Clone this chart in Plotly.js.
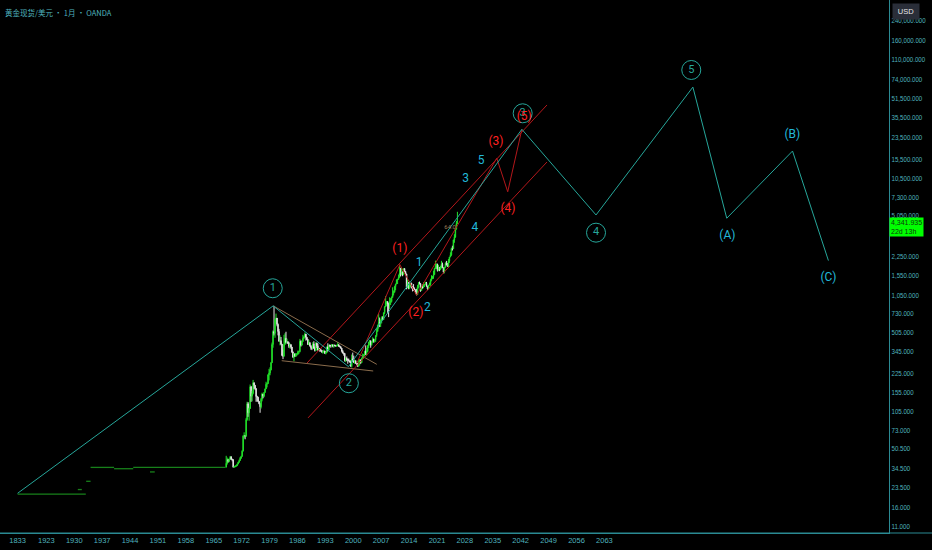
<!DOCTYPE html>
<html><head><meta charset="utf-8">
<script src="https://cdn.plot.ly/plotly-3.0.1.min.js"></script>
<style>html,body{margin:0;padding:0;background:#000;}#chart{width:932px;height:550px;}</style>
</head><body><div id="chart"></div>
<script>
// ---- early flat-period prices (bar position in years, price); null breaks a segment
const earlyX = [1915.8, 1932.9, null, 1930.9, 1931.9, null, 1933.0, 1934.1, null, 1934.1, 1940.0, null, 1940.0, 1944.8, null, 1944.8, 1968.0, null, 1949.0, 1950.2];
const earlyY = [20.67, 20.67, null, 22.6, 22.6, null, 26.6, 26.6, null, 35, 35, null, 34.1, 34.1, null, 35, 35, null, 32, 32];

// ---- quarterly candles from 1968 Q1 to 2026 Q1
const qStart = 1968;
const firstOpen = 35.2;
const qClose = [
 38,41,39.5,41, 43.2,41.2,40.8,35.2, 35.4,36,36.2,37.4, 38.8,40.1,42,43.5,
 48.3,65,65.5,64.9, 90,123,103,112, 172,143,151,186.5, 177,166,142,140,
 129,123,116,134.5, 149,143,154,165, 181,183,218,226, 240,277,397,512,
 494,653,667,590, 513,422,428,400, 320,315,397,448, 414,416,405,382,
 394,377,342,309, 330,317,326,327, 344,345,423,391, 421,448,460,487,
 457,436,397,410, 386,373,367,401, 368,352,408,386, 356,367,354,353,
 341,343,349,333, 337,378,355,391, 390,388,394,383, 391,387,384,387,
 396,382,379,369, 348,334,332,290, 301,296,293,288, 280,261,299,290,
 278,288,273,273, 258,270,293,277, 302,318,323,347, 334,346,386,416,
 427,395,416,438, 428,435,473,513, 582,613,599,632, 663,650,743,834,
 916,925,880,869, 919,926,1003,1087, 1113,1244,1307,1421, 1439,1500,1620,1566,
 1662,1598,1772,1675, 1596,1234,1327,1202, 1284,1327,1210,1184, 1183,1172,1115,1061,
 1233,1321,1316,1151, 1249,1242,1280,1303, 1325,1253,1192,1282, 1292,1409,1472,1517,
 1577,1781,1886,1898, 1708,1770,1742,1829, 1937,1807,1661,1824, 1969,1919,1849,2063,
 2230,2326,2634,2624, 3123,3303,3859,4319, 4341.935];
const qHigh = [
 44,42.5,41,41.9, 43.8,43.5,41.5,41, 35.9,36.3,36.6,37.6, 39,40.8,43,44,
 49,66,70,66, 93,128,127,114, 180,175,159,197, 186,178,167,144,
 141,130,125,138, 153,149,155,166, 190,186,220,245, 253,281,412,524,
 850,657,730,660, 600,540,475,460, 400,358,480,495, 510,445,425,415,
 404,400,375,345, 335,331,335,335, 352,350,443,430, 425,480,466,502,
 487,458,442,432, 415,392,371,416, 423,381,415,410, 404,371,368,366,
 355,345,359,350, 339,380,406,395, 395,389,399,397, 396,396,391,395,
 417,396,389,383, 369,355,339,335, 306,313,301,300, 289,290,325,338,
 318,294,289,276, 273,294,297,293, 306,332,327,350, 390,371,392,417,
 433,428,417,457, 446,441,474,541, 586,730,675,650, 690,692,745,845,
 1032,935,920,904, 1007,990,1024,1227, 1153,1265,1316,1432, 1448,1577,1921,1803,
 1792,1677,1788,1796, 1695,1605,1434,1361, 1392,1332,1345,1255, 1307,1224,1170,1191,
 1282,1362,1375,1337, 1264,1296,1357,1305, 1366,1365,1262,1284, 1346,1438,1557,1535,
 1703,1789,2075,1965, 1959,1916,1834,1877, 2070,1998,1814,1833, 2009,2067,1987,2146,
 2236,2450,2685,2790, 3148,3500,3872,4550, 5450];
const qLow = [
 35,37,38.5,38.8, 41,40.5,39.5,34.9, 34.8,35.2,35.4,36.5, 37.3,38.3,40,41.5,
 43.5,48,62,61, 64,88,95,88, 116,128,129,148, 165,161,128,128.5,
 127,122,103,112, 129,137,140,153, 165,170,183,195, 216,238,275,372,
 474,453,606,568, 475,420,390,391, 315,297,312,395, 405,403,400,370,
 366,365,335,305, 284,310,310,318, 325,330,340,381, 398,418,440,455,
 428,436,393,395, 380,358,355,365, 365,345,352,370, 351,354,343,343,
 337,331,339,329, 326,337,345,352, 376,372,379,375, 372,383,382,380,
 395,380,375,366, 339,334,318,283, 280,286,271,284, 278,254,252,281,
 277,270,271,263, 255,256,262,271, 277,302,301,313, 322,320,342,370,
 390,372,388,412, 411,413,418,461, 514,543,560,561, 602,640,643,723,
 834,846,735,681, 801,865,908,1001, 1044,1106,1157,1308, 1309,1418,1478,1522,
 1563,1527,1556,1662, 1554,1180,1207,1181, 1182,1240,1206,1131, 1142,1162,1077,1046,
 1061,1200,1302,1123, 1146,1195,1204,1236, 1302,1246,1160,1180, 1276,1266,1382,1445,
 1451,1568,1757,1764, 1677,1690,1687,1721, 1780,1805,1615,1617, 1805,1893,1846,1810,
 1985,2228,2286,2537, 2614,2957,3268,3850, 4300];

// ---- Elliott wave path (primary degree): year position, price
const waveX = [1915.8, 1979.9, 1998.8, 2042.3, 2060.9, 2085.2, 2093.7, 2110.2, 2119.2];
const waveY = [21.0, 850, 256, 27800, 5120, 64000, 4800, 18100, 2080];
// ---- intermediate degree path (red)
const subX = [2000.9, 2011.7, 2015.9, 2036.0, 2038.75, 2042.3];
const subY = [274, 1920, 1050, 15700, 8100, 27800];
// ---- channels and triangle
const chanUpX = [1988.4, 2048.6],  chanUpY = [275, 44950];
const chanLoX = [1988.65, 2048.6], chanLoY = [93, 14580];
const triUpX = [1979.95, 2005.9],  triUpY = [849, 268];
const triLoX = [1982.05, 2005.0],  triLoY = [288, 235];

// ---- labels
const circX = [1979.8, 1998.9, 2042.5, 2060.9, 2084.8];
const circY = [1204, 184.5, 38150, 3610, 89730];
const circT = ['1','2','3','4','5'];
const redX = [2011.7, 2015.7, 2035.8, 2038.8, 2042.9];
const redY = [2600, 744, 21770, 5764, 35260];
const redT = ['(1)','(2)','(3)','(4)','(5)'];
const minX = [2016.5, 2018.6, 2028.2, 2030.5, 2032.05];
const minY = [1984, 811, 10420, 3937, 14875];
const minT = ['1','2','3','4','5'];
const abcX = [2093.85, 2110.15, 2119.2];
const abcY = [3402, 24855, 1467];
const abcT = ['(A)','(B)','(C)'];
const fibX = [2024.3], fibY = [3960], fibT = ['64.0'];

// ---- axis ticks
const xTickVals = [1915.8,1923,1930,1937,1944,1951,1958,1965,1972,1979,1986,1993,2000,2007,2014,2021,2028,2035,2042,2049,2056,2063];
const xTickText = ['1833','1923','1930','1937','1944','1951','1958','1965','1972','1979','1986','1993','2000','2007','2014','2021','2028','2035','2042','2049','2056','2063'];
const yTickVals = [11,16,23.5,34.5,50.5,73,105,155,225,345,505,730,1050,1550,2250,5050,7300,10500,15500,23500,35500,51500,74000,110000,160000,240000];
const yTickText = yTickVals.map(v => v.toLocaleString('en-US',{minimumFractionDigits:3, maximumFractionDigits:3}));

// ---- build candles
const cx=[], co=[], ch=[], cl=[], cc=[];
for (let i=0;i<qClose.length;i++){
  cx.push(qStart + i/4 + 0.125);
  co.push(i===0 ? firstOpen : qClose[i-1]);
  ch.push(qHigh[i]); cl.push(qLow[i]); cc.push(qClose[i]);
}

const TEAL='#26a69a', CYAN='#22b8d8', RED='#ff2020', DRED='#b3171b', TAN='#8a6c4c';
const lblFont = 'Roboto, "DejaVu Sans", sans-serif';
const tickFam = '"Liberation Sans Narrow","Liberation Sans",Arial,sans-serif';
const tickFont = {family:tickFam, size:7.5, color:'#4fb3bf'};

const traces = [
 {type:'scatter', mode:'lines', x:earlyX, y:earlyY, connectgaps:false, line:{color:'#17801a', width:1.3}},
 {type:'candlestick', x:cx, open:co, high:ch, low:cl, close:cc, whiskerwidth:0,
  increasing:{line:{color:'#22e32a', width:1}, fillcolor:'#22e32a'},
  decreasing:{line:{color:'#e6e6e6', width:1}, fillcolor:'#e6e6e6'}},
 {type:'scatter', mode:'lines', x:triUpX, y:triUpY, line:{color:TAN, width:1}},
 {type:'scatter', mode:'lines', x:triLoX, y:triLoY, line:{color:TAN, width:1}},
 {type:'scatter', mode:'lines', x:chanUpX, y:chanUpY, line:{color:DRED, width:1}},
 {type:'scatter', mode:'lines', x:chanLoX, y:chanLoY, line:{color:DRED, width:1}},
 {type:'scatter', mode:'lines', x:subX, y:subY, line:{color:DRED, width:1}},
 {type:'scatter', mode:'lines', x:waveX, y:waveY, line:{color:TEAL, width:1}},
 {type:'scatter', mode:'markers+text', x:circX, y:circY, text:circT, textposition:'middle center',
  marker:{symbol:'circle-open', size:19, color:TEAL, line:{width:1, color:TEAL}},
  textfont:{family:lblFont, size:11, color:TEAL}},
 {type:'scatter', mode:'text', x:redX, y:redY, text:redT, textposition:'middle center', textfont:{family:lblFont, size:12, color:RED}},
 {type:'scatter', mode:'text', x:minX, y:minY, text:minT, textposition:'middle center', textfont:{family:lblFont, size:12, color:CYAN}},
 {type:'scatter', mode:'text', x:abcX, y:abcY, text:abcT, textposition:'middle center', textfont:{family:lblFont, size:12, color:CYAN}},
 {type:'scatter', mode:'text', x:fibX, y:fibY, text:fibT, textposition:'middle center', textfont:{family:lblFont, size:6, color:'#a0805a'}}
];

const last = qClose[qClose.length-1];
const layout = {
 width:932, height:550, paper_bgcolor:'#000', plot_bgcolor:'#000',
 margin:{l:0, r:43, t:0, b:17}, showlegend:false, hovermode:false,
 xaxis:{type:'linear', range:[1911.38, 2134.4], tickvals:xTickVals, ticktext:xTickText,
   showgrid:false, zeroline:false, showline:true, linecolor:'#2b8a93', linewidth:1,
   ticks:'', tickfont:tickFont, rangeslider:{visible:false}, fixedrange:true},
 yaxis:{type:'log', range:[0.9814, 5.5532], side:'right', tickvals:yTickVals, ticktext:yTickText,
   showgrid:false, zeroline:false, showline:true, linecolor:'#2b8a93', linewidth:1,
   ticks:'', tickfont:tickFont, fixedrange:true},
 shapes:[{type:'line', xref:'paper', yref:'paper', x0:0, x1:1.06, y0:0, y1:0, line:{color:'#2b8a93', width:1}}],
 annotations:[
  {xref:'paper', yref:'paper', x:0, y:1, xanchor:'left', yanchor:'top', xshift:3, yshift:-5, showarrow:false,
   text:'黄金现货/美元 · 1月 · OANDA', font:{family:'"Noto Sans CJK SC", sans-serif', size:7.5, color:'#4fb3bf'}},
  {xref:'paper', yref:'paper', x:1, y:1, xanchor:'left', yanchor:'top', xshift:3, yshift:-3, showarrow:false,
   text:'USD', bgcolor:'#2a2e39', borderpad:3, width:20, font:{family:tickFam, size:7.5, color:'#e6e6e6'}},
  {xref:'paper', yref:'y', x:1, y:Math.log10(last), xanchor:'left', yanchor:'middle', yshift:-4, showarrow:false,
   align:'left', text:last.toLocaleString('en-US',{minimumFractionDigits:3})+'<br>22d 13h', bgcolor:'#00ff00', borderpad:1,
   font:{family:tickFam, size:7, color:'#0b3b0b'}}
 ]
};
Plotly.newPlot('chart', traces, layout, {displayModeBar:false, staticPlot:true}).then(gd => {
  // condense the right-axis tick labels so they fit like the reference
  gd.querySelectorAll('.yaxislayer-above .ytick text').forEach(t => {
    const w = t.getComputedTextLength();
    t.setAttribute('textLength', (w*0.82).toFixed(1));
    t.setAttribute('lengthAdjust', 'spacingAndGlyphs');
  });
});
</script></body></html>
